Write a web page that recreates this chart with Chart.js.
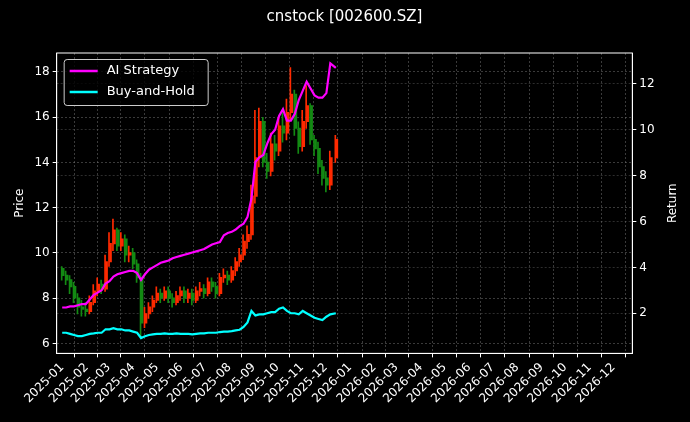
<!DOCTYPE html>
<html><head><meta charset="utf-8">
<script src="https://cdn.jsdelivr.net/npm/chart.js@4"></script>
<style>html,body{margin:0;background:#000;}#w{width:690px;height:422px;}</style>
</head><body><div id="w"><canvas id="c"></canvas></div>
<script>
const monthLabels = ["2025-01","2025-02","2025-03","2025-04","2025-05","2025-06","2025-07","2025-08","2025-09","2025-10","2025-11","2025-12","2026-01","2026-02","2026-03","2026-04","2026-05","2026-06","2026-07","2026-08","2026-09","2026-10","2026-11","2026-12"];
// day offsets from 2025-01-01
const days = [0,5,10,15,20,25,30,35,40,45,50,55,60,65,70,75,80,85,90,95,100,105,110,115,120,125,130,135,140,145,150,155,160,165,170,175,180,185,190,195,200,205,210,215,220,225,230,235,240,245,250,255,260,265,270,275,280,285,290,295,300,305,310,315,320,325,330,335,340,347];
const openP = [9.3,9.0,8.8,8.5,8.0,7.6,7.5,7.4,7.8,8.3,8.6,8.4,9.6,10.4,11.0,10.3,10.6,9.9,10.0,9.5,8.9,6.9,7.3,7.6,7.9,8.2,8.0,8.3,8.0,7.8,8.1,8.3,8.0,8.2,7.9,8.3,8.4,8.2,8.7,8.5,8.2,8.9,9.0,8.8,9.2,9.6,9.9,10.5,10.8,12.5,14.2,15.8,14.0,13.6,14.8,14.5,15.6,15.3,16.2,17.0,15.5,14.7,15.8,16.5,15.0,14.6,13.8,13.3,13.0,14.2];
const closeP = [9.0,8.8,8.5,8.0,7.6,7.5,7.4,7.8,8.3,8.6,8.4,9.6,10.4,11.0,10.3,10.6,9.9,10.0,9.5,8.9,6.9,7.3,7.6,7.9,8.2,8.0,8.3,8.0,7.8,8.1,8.3,8.0,8.2,7.9,8.3,8.4,8.2,8.7,8.5,8.2,8.9,9.0,8.8,9.2,9.6,9.9,10.5,10.8,12.5,14.2,15.8,14.0,13.6,14.8,14.5,15.6,15.3,16.2,17.0,15.5,14.7,15.8,16.5,15.0,14.6,13.8,13.3,13.0,14.2,15.0];
const highP = [9.4,9.2,9.0,8.7,8.2,7.9,7.8,8.1,8.6,8.9,8.8,9.9,10.9,11.5,11.1,10.9,10.8,10.3,10.2,9.7,9.1,7.6,7.8,8.1,8.5,8.4,8.5,8.5,8.2,8.3,8.5,8.5,8.4,8.4,8.5,8.7,8.6,8.9,8.9,8.7,9.1,9.3,9.2,9.4,9.8,10.2,10.8,11.2,13.0,16.3,16.4,16.0,14.4,15.3,15.2,16.0,16.3,16.8,18.2,17.2,15.8,16.3,17.4,16.6,15.2,14.9,14.1,13.6,14.5,15.2];
const lowP = [8.8,8.6,8.2,7.8,7.3,7.2,7.2,7.3,7.7,8.1,8.2,8.3,9.4,10.1,10.1,10.1,9.6,9.6,9.3,8.7,6.3,6.7,7.1,7.4,7.8,7.8,7.9,7.8,7.6,7.7,7.9,7.8,7.8,7.7,7.8,8.1,8.0,8.1,8.3,8.0,8.1,8.7,8.6,8.7,9.0,9.4,9.7,10.2,10.6,12.2,13.8,13.8,13.3,13.4,14.1,14.3,14.9,15.0,15.9,15.2,14.4,14.5,15.5,14.8,14.3,13.5,13.0,12.7,12.8,14.0];
const aiRet = [2.25,2.25,2.3,2.3,2.35,2.4,2.4,2.6,2.8,2.9,3.0,3.3,3.4,3.6,3.7,3.75,3.8,3.85,3.85,3.75,3.45,3.7,3.9,4.0,4.1,4.2,4.25,4.3,4.4,4.45,4.5,4.55,4.6,4.65,4.7,4.75,4.8,4.9,5.0,5.05,5.1,5.4,5.5,5.55,5.65,5.8,5.9,6.2,7.0,8.6,8.8,8.9,9.4,9.8,10.0,10.6,10.9,10.4,10.4,10.7,11.3,11.7,12.1,11.8,11.5,11.4,11.4,11.6,12.9,12.7];
const bhRet = [1.15,1.15,1.1,1.05,1.0,1.0,1.05,1.1,1.12,1.15,1.15,1.3,1.3,1.35,1.3,1.3,1.25,1.25,1.2,1.15,0.92,1.0,1.05,1.08,1.1,1.1,1.12,1.1,1.1,1.12,1.1,1.1,1.1,1.08,1.1,1.12,1.12,1.15,1.15,1.15,1.18,1.2,1.2,1.22,1.25,1.28,1.4,1.6,2.1,1.9,1.95,1.95,2.0,2.05,2.05,2.2,2.25,2.1,2.0,2.0,1.95,2.1,2.0,1.9,1.8,1.75,1.7,1.85,1.95,2.0];

const base = Date.UTC(2025,0,1);
const monthDays = monthLabels.map(l => { const [y,m] = l.split('-').map(Number); return Math.round((Date.UTC(y,m-1,1)-base)/86400000); });
const candleCol = closeP.map((c,i)=> c>=openP[i] ? '#ff2a00' : '#138a13');
const wick = days.map((d,i)=>({x:d,y:[lowP[i],highP[i]]}));
const body = days.map((d,i)=>({x:d,y:[Math.min(openP[i],closeP[i]),Math.max(openP[i],closeP[i])+0.02]}));
const ai = days.map((d,i)=>({x:d,y:aiRet[i]}));
const bh = days.map((d,i)=>({x:d,y:bhRet[i]}));
const F = "'DejaVu Sans'";
Chart.defaults.font.family = F;
Chart.defaults.color = '#fff';

const legendBox = {
  id:'legendBox',
  afterDatasetsDraw(ch){
    const c=ch.ctx, a=ch.chartArea;
    const x=a.left+7,y=a.top+6,w=144,h=46;
    c.save();
    c.fillStyle='rgba(0,0,0,0.8)';c.strokeStyle='#ccc';c.lineWidth=1;
    c.beginPath();c.roundRect(x+0.5,y+0.5,w,h,3);c.fill();c.stroke();
    const items=[['AI Strategy','#ff00ff'],['Buy-and-Hold','#00ffff']];
    c.font="13px "+F;c.textBaseline='middle';
    items.forEach((it,i)=>{const yy=y+12+i*21;c.strokeStyle=it[1];c.lineWidth=2.5;c.beginPath();c.moveTo(x+6,yy);c.lineTo(x+34,yy);c.stroke();c.fillStyle='#fff';c.fillText(it[0],x+43,yy);});
    c.font="12px "+F;c.textAlign='center';c.textBaseline='middle';
    c.translate(673,(a.top+a.bottom)/2);c.rotate(-Math.PI/2);c.fillText('Return',0,0);
    c.restore();
  }
};

new Chart(document.getElementById('c'),{
  type:'bar',
  data:{datasets:[
    {type:'bar',data:wick,backgroundColor:candleCol,barThickness:1,yAxisID:'y',order:3},
    {type:'bar',data:body,backgroundColor:candleCol,barThickness:2,yAxisID:'y',order:3},
    {type:'line',data:ai,borderColor:'#ff00ff',borderWidth:2.2,pointRadius:0,yAxisID:'y1',order:1,tension:0},
    {type:'line',data:bh,borderColor:'#00ffff',borderWidth:2.2,pointRadius:0,yAxisID:'y1',order:1,tension:0}
  ]},
  options:{
    responsive:true,maintainAspectRatio:false,animation:false,
    layout:{padding:{top:4,left:9,right:10,bottom:13}},
    plugins:{legend:{display:false},tooltip:{enabled:false},
      title:{display:true,text:'cnstock [002600.SZ]',color:'#fff',font:{size:15,weight:'normal',family:F},padding:{top:4,bottom:27}}},
    scales:{
      x:{type:'linear',min:-7,max:723,offset:false,
        afterBuildTicks:s=>{s.ticks=monthDays.map(v=>({value:v}));},
        ticks:{autoSkip:false,maxRotation:45,minRotation:45,font:{size:12},color:'#fff',
          callback:(v)=>{const i=monthDays.indexOf(v);return i>=0?monthLabels[i]:'';}},
        grid:{color:'rgba(128,128,128,0.45)',tickColor:'#fff',tickLength:4,drawTicks:true},
        border:{color:'#fff',dash:[2,2]}},
      y:{position:'left',min:5.56,max:18.84,
        afterBuildTicks:s=>{s.ticks=[6,8,10,12,14,16,18].map(v=>({value:v}));},
        ticks:{font:{size:12},color:'#fff'},
        title:{display:true,text:'Price',color:'#fff',font:{size:12}},
        grid:{color:'rgba(128,128,128,0.45)',tickColor:'#fff',tickLength:4},
        border:{color:'#fff',dash:[2,2]}},
      y1:{position:'right',min:0.25,max:13.35,
        afterBuildTicks:s=>{s.ticks=[2,4,6,8,10,12].map(v=>({value:v}));},
        ticks:{font:{size:12},color:'#fff'},
        title:{display:true,text:'Return',color:'rgba(0,0,0,0)',font:{size:12}},
        grid:{color:'rgba(128,128,128,0.35)',tickColor:'#fff',tickLength:4},
        border:{color:'#fff',dash:[2,2]}}
    }
  },
  plugins:[legendBox,{id:'frame',afterDraw(ch){const c=ch.ctx,a=ch.chartArea;c.save();c.strokeStyle='#fff';c.lineWidth=1;c.strokeRect(a.left,a.top,a.right-a.left,a.bottom-a.top);c.restore();}}]
});
</script></body></html>
